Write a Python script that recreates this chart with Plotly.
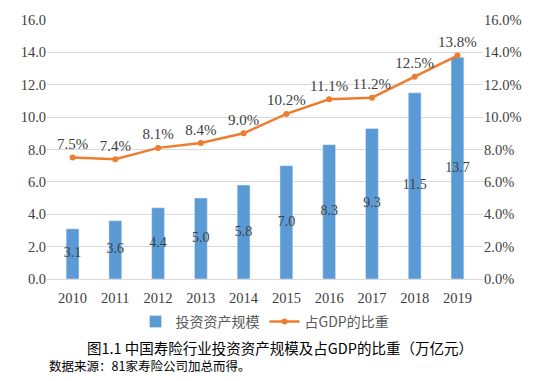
import plotly.graph_objects as go

years = ["2010", "2011", "2012", "2013", "2014", "2015", "2016", "2017", "2018", "2019"]
assets = [3.1, 3.6, 4.4, 5.0, 5.8, 7.0, 8.3, 9.3, 11.5, 13.7]
gdp_share = [0.075, 0.074, 0.081, 0.084, 0.090, 0.102, 0.111, 0.112, 0.125, 0.138]

bar_name = "投资资产规模"
line_name = "占GDP的比重"
title_text = "图1.1 中国寿险行业投资资产规模及占GDP的比重（万亿元）"
source_text = "数据来源：81家寿险公司加总而得。"

serif = "Liberation Serif"
cjk = "Noto Sans CJK SC"
txt_color = "#404040"

fig = go.Figure()
fig.add_trace(go.Bar(
    x=years, y=assets, name=bar_name,
    marker_color="#5B9BD5",
))
# bar value labels at the middle of each bar
fig.add_trace(go.Scatter(
    x=years, y=[v / 2 for v in assets], mode="text",
    text=[f"{v:.1f}" for v in assets],
    textfont=dict(family=serif, size=14, color=txt_color),
    showlegend=False, hoverinfo="skip",
))
fig.add_trace(go.Scatter(
    x=years, y=gdp_share, name=line_name, yaxis="y2",
    mode="lines+markers+text",
    line=dict(color="#ED7D31", width=2.5),
    marker=dict(color="#ED7D31", size=6),
    text=[f"{v*100:.1f}%" for v in gdp_share],
    textposition="top center",
    textfont=dict(family=serif, size=15, color=txt_color),
    cliponaxis=False,
))

fig.update_layout(
    width=550, height=381,
    margin=dict(l=47, r=67, t=20, b=102),
    paper_bgcolor="white", plot_bgcolor="white",
    bargap=0.7,
    showlegend=True,
    legend=dict(orientation="h", x=0.5, xanchor="center", y=-0.166, yanchor="middle",
                font=dict(family=cjk, size=14, color="#595959"), itemwidth=30),
    xaxis=dict(showgrid=False, showline=True, linecolor="#D9D9D9", ticks="",
               ticklabelstandoff=6,
               tickfont=dict(family=serif, size=14.5, color=txt_color)),
    yaxis=dict(range=[0, 16], dtick=2, tickformat=".1f", showgrid=True,
               gridcolor="#D9D9D9", zeroline=False,
               tickfont=dict(family=serif, size=14.5, color=txt_color)),
    yaxis2=dict(range=[0, 0.16], dtick=0.02, tickformat=".1%", overlaying="y",
                side="right", showgrid=False, zeroline=False,
                tickfont=dict(family=serif, size=14.5, color=txt_color)),
    annotations=[
        dict(text=title_text, xref="paper", yref="paper", x=0.535, y=-0.263,
             xanchor="center", yanchor="middle", showarrow=False,
             font=dict(family=cjk, size=14.5, color="#000000")),
        dict(text=source_text, xref="paper", yref="paper", x=0.0, y=-0.333,
             xanchor="left", yanchor="middle", showarrow=False,
             font=dict(family=cjk, size=12.5, color="#000000")),
    ],
)

fig.write_html("out.html", config={"displayModeBar": False},
               post_script="document.body.style.margin='0';document.body.style.overflow='hidden';")
